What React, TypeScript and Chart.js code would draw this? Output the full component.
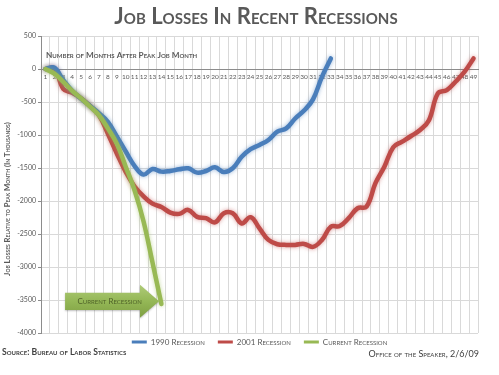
import React, { useEffect, useRef } from "react";
import { Chart, registerables } from "chart.js";

Chart.register(...registerables);

// ---------- data ----------
const months = [
  "1", "2", "3", "4", "5", "6", "7", "8", "9", "10",
  "11", "12", "13", "14", "15", "16", "17", "18", "19", "20",
  "21", "22", "23", "24", "25", "26", "27", "28", "29", "30",
  "31", "32", "33", "34", "35", "36", "37", "38", "39", "40",
  "41", "42", "43", "44", "45", "46", "47", "48", "49",
];

const recession1990 = [
  0, 20, -170, -330, -450, -560, -670, -800, -1020, -1250,
  -1470, -1600, -1515, -1555, -1545, -1520, -1505, -1570, -1545, -1490,
  -1560, -1505, -1330, -1215, -1150, -1075, -950, -900, -750, -630,
  -460, -120, 160,
];

const recession2001 = [
  0, 10, -300, -360, -445, -560, -700, -980, -1280, -1560,
  -1780, -1930, -2040, -2090, -2175, -2195, -2135, -2240, -2260, -2325,
  -2185, -2185, -2340, -2245, -2415, -2590, -2655, -2665, -2665, -2650,
  -2695, -2590, -2390, -2380, -2260, -2110, -2085, -1730, -1480, -1185,
  -1100, -1015, -925, -775, -370, -320, -190, -40, 160,
];

const currentRecession = [
  0, -70, -195, -330, -445, -570, -700, -900, -1130, -1480,
  -1840, -2310, -2930, -3560,
];

const seriesNames = ["1990 Recession", "2001 Recession", "Current Recession"];
const seriesColors = ["#4A7EBB", "#BE4B48", "#98B954"];
const glowColors = ["rgba(74,126,187,0.55)", "rgba(190,75,72,0.55)", "rgba(152,185,84,0.55)"];

const yMin = -4000;
const yMax = 500;
const yStep = 500;

const titleText = "Job Losses In Recent Recessions";
const yAxisTitle = "Job Losses Relative to Peak Month (In Thousands)";
const xAxisNote = "Number of Months After Peak Job Month";
const arrowText = "Current Recession";
const sourceText = "Source: Bureau of Labor Statistics";
const creditText = "Office of the Speaker, 2/6/09";

const FONT = "Lato, 'Open Sans', sans-serif";
const GREY = "#595959";

// annotation geometry in data units (category index / value)
const arrowGeom = { startIdx: 2.2, headIdx: 10.6, tipIdx: 12.73, center: -3520, bodyHalf: 131, headHalf: 250, textIdx: 7.2 };

const glowPlugin = {
  id: "glow",
  beforeDatasetDraw(chart: any, args: any) {
    const ctx = chart.ctx;
    const ds = chart.data.datasets[args.index];
    ctx.save();
    ctx.shadowColor = ds.glowColor;
    ctx.shadowBlur = 4;
  },
  afterDatasetDraw(chart: any) {
    chart.ctx.restore();
  },
};

const legendShift = {
  id: "legendShift",
  afterLayout(chart: any) {
    if (chart.legend) {
      chart.legend.top -= 8;
      chart.legend.bottom -= 8;
    }
  },
};

const annotations = {
  id: "annotations",
  afterDatasetsDraw(chart: any) {
    const { ctx, chartArea } = chart;
    const x = chart.scales.x;
    const y = chart.scales.y;

    // x-axis note
    ctx.save();
    ctx.font = `small-caps bold 8.2px ${FONT}`;
    (ctx as any).fontVariantCaps = "small-caps";
    ctx.fillStyle = GREY;
    ctx.textAlign = "left";
    ctx.textBaseline = "middle";
    ctx.fillText(xAxisNote, chartArea.left + 5, y.getPixelForValue(200));
    ctx.restore();

    // y-axis title
    ctx.save();
    ctx.translate(7.5, 199);
    ctx.rotate(-Math.PI / 2);
    ctx.font = `small-caps bold 7.7px ${FONT}`;
    (ctx as any).fontVariantCaps = "small-caps";
    ctx.fillStyle = GREY;
    ctx.textAlign = "center";
    ctx.textBaseline = "middle";
    ctx.fillText(yAxisTitle, 0, 0);
    ctx.restore();

    // arrow
    const xs = x.getPixelForValue(arrowGeom.startIdx);
    const xh = x.getPixelForValue(arrowGeom.headIdx);
    const xt = x.getPixelForValue(arrowGeom.tipIdx);
    const yc = y.getPixelForValue(arrowGeom.center);
    const yb1 = y.getPixelForValue(arrowGeom.center + arrowGeom.bodyHalf);
    const yb2 = y.getPixelForValue(arrowGeom.center - arrowGeom.bodyHalf);
    const yh1 = y.getPixelForValue(arrowGeom.center + arrowGeom.headHalf);
    const yh2 = y.getPixelForValue(arrowGeom.center - arrowGeom.headHalf);
    ctx.save();
    const g = ctx.createLinearGradient(0, yh1, 0, yh2);
    g.addColorStop(0, "#AFCB78");
    g.addColorStop(0.5, "#94B756");
    g.addColorStop(1, "#7E9F42");
    ctx.shadowColor = "rgba(0,0,0,0.25)";
    ctx.shadowBlur = 2;
    ctx.shadowOffsetY = 1;
    ctx.beginPath();
    ctx.moveTo(xs, yb1);
    ctx.lineTo(xh, yb1);
    ctx.lineTo(xh, yh1);
    ctx.lineTo(xt, yc);
    ctx.lineTo(xh, yh2);
    ctx.lineTo(xh, yb2);
    ctx.lineTo(xs, yb2);
    ctx.closePath();
    ctx.fillStyle = g;
    ctx.fill();
    ctx.restore();

    ctx.save();
    ctx.font = `small-caps 8px ${FONT}`;
    (ctx as any).fontVariantCaps = "small-caps";
    ctx.fillStyle = "#4F6228";
    ctx.textAlign = "center";
    ctx.textBaseline = "middle";
    ctx.fillText(arrowText, x.getPixelForValue(arrowGeom.textIdx), yc);
    ctx.restore();
  },
};

export default function App() {
  const ref = useRef<HTMLCanvasElement | null>(null);

  useEffect(() => {
    document.body.style.margin = "0";
    const canvas = ref.current;
    if (!canvas) return;
    const datasets = [recession1990, recession2001, currentRecession].map((d, i) => ({
      label: seriesNames[i],
      data: d,
      borderColor: seriesColors[i],
      backgroundColor: seriesColors[i],
      glowColor: glowColors[i],
      borderWidth: 4.5,
      pointRadius: 0,
      tension: 0.4,
      fill: false,
      order: i === 2 ? 0 : i + 1,
      borderCapStyle: "round",
      borderJoinStyle: "round",
    }));

    const chart = new Chart(canvas, {
      type: "line",
      data: { labels: months, datasets: datasets as any },
      plugins: [glowPlugin, legendShift, annotations],
      options: {
        animation: false,
        responsive: false,
        maintainAspectRatio: false,
        devicePixelRatio: 1,
        layout: { padding: { top: 36, right: 21, bottom: 11, left: 0 } },
        plugins: {
          title: { display: false },
          tooltip: { enabled: false },
          legend: {
            position: "bottom",
            fullSize: false,
            labels: {
              boxWidth: 15,
              boxHeight: 3,
              padding: 13,
              color: GREY,
              font: { family: FONT, size: 8, weight: "small-caps 400" as any },
              sort: (a: any, b: any) => a.datasetIndex - b.datasetIndex,
              generateLabels: (c: any) =>
                (Chart.defaults.plugins.legend.labels.generateLabels as any)(c).map((l: any) => ({ ...l, lineWidth: 0 })),
            },
          },
        },
        scales: {
          x: {
            type: "category",
            position: { y: 0 } as any,
            offset: true,
            grid: { offset: true, color: "#D9D9D9", lineWidth: 1, drawTicks: false },
            border: { color: "#8C8C8C" },
            ticks: {
              autoSkip: false,
              maxRotation: 0,
              minRotation: 0,
              padding: 4,
              color: GREY,
              font: { family: FONT, size: 6.5 },
            },
          },
          y: {
            min: yMin,
            max: yMax,
            grid: { color: "#D9D9D9", tickLength: 3, tickColor: "#8C8C8C" },
            border: { color: "#8C8C8C" },
            ticks: {
              stepSize: yStep,
              padding: 2,
              color: GREY,
              font: { family: FONT, size: 7 },
              callback: (v: any) => String(v),
            },
            afterFit: (s: any) => {
              s.width = 41;
            },
          },
        },
      },
    });
    return () => chart.destroy();
  }, []);

  return (
    <div style={{ position: "absolute", left: 0, top: 0, width: 499, height: 375, background: "#fff", overflow: "hidden" }}>
      <canvas ref={ref} width={499} height={375} style={{ position: "absolute", left: 0, top: 0, width: 499, height: 375 }} />
      <div
        style={{
          position: "absolute",
          left: 0,
          width: 512,
          top: 2,
          textAlign: "center",
          fontFamily: FONT,
          fontWeight: 700,
          fontSize: 22,
          lineHeight: "27px",
          fontVariant: "small-caps",
          color: GREY,
          whiteSpace: "nowrap",
        }}
      >
        {titleText}
      </div>
      <div
        style={{
          position: "absolute",
          left: 2,
          top: 347,
          fontFamily: FONT,
          fontWeight: 700,
          fontSize: 8.6,
          lineHeight: "11px",
          fontVariant: "small-caps",
          color: "#3F3F3F",
          whiteSpace: "nowrap",
        }}
      >
        {sourceText}
      </div>
      <div
        style={{
          position: "absolute",
          right: 20,
          top: 348,
          fontFamily: FONT,
          fontSize: 9,
          lineHeight: "11px",
          fontVariant: "small-caps",
          color: "#3F3F3F",
          whiteSpace: "nowrap",
        }}
      >
        {creditText}
      </div>
    </div>
  );
}
